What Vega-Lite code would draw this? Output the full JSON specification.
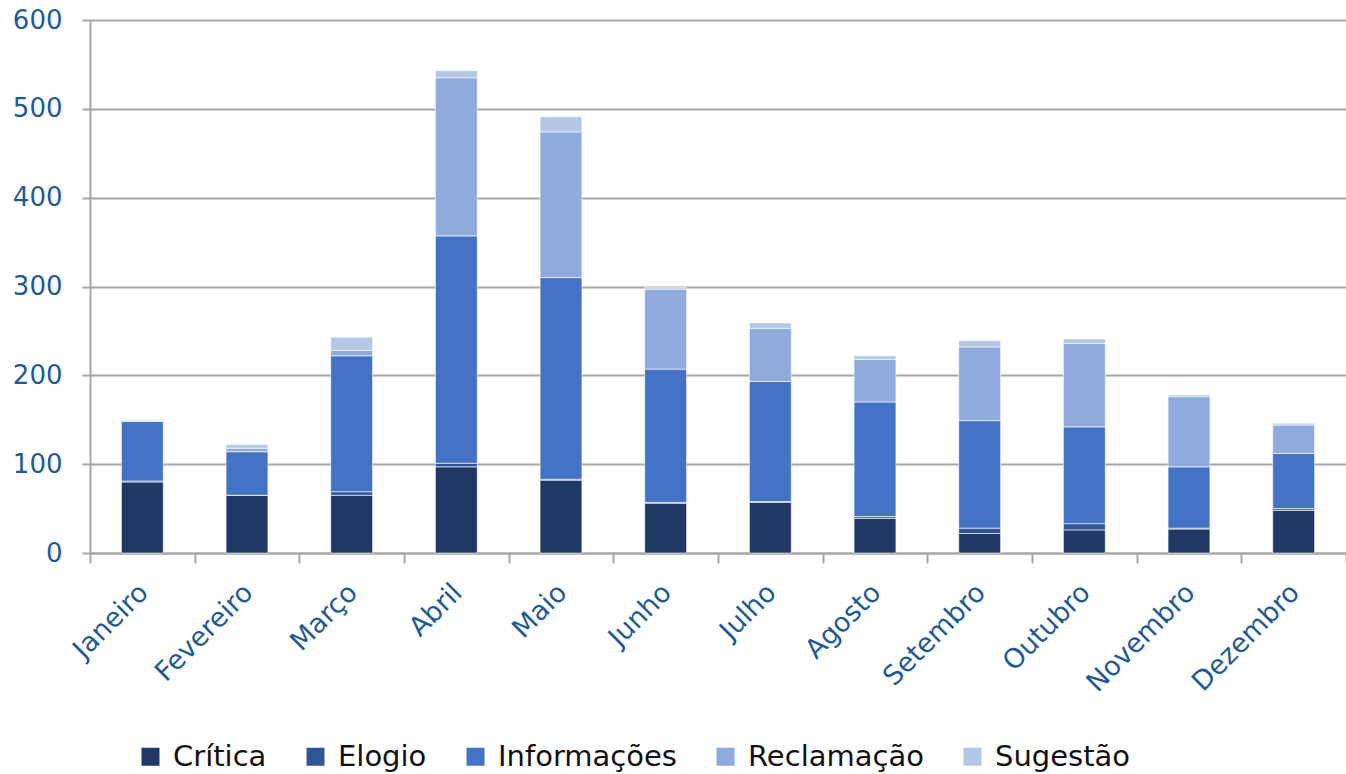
{
  "$schema": "https://vega.github.io/schema/vega-lite/v6.json",
  "autosize": "none",
  "padding": {"left": 90, "top": 20, "right": 0, "bottom": 221},
  "width": 1256,
  "height": 533,
  "background": "#ffffff",
  "config": {
    "font": "DejaVu Sans",
    "view": {"stroke": null}
  },
  "data": {
    "values": [
      {"mes": "Janeiro", "tipo": "Crítica", "valor": 80},
      {"mes": "Janeiro", "tipo": "Elogio", "valor": 1},
      {"mes": "Janeiro", "tipo": "Informações", "valor": 67},
      {"mes": "Janeiro", "tipo": "Reclamação", "valor": 1},
      {"mes": "Janeiro", "tipo": "Sugestão", "valor": 1},
      {"mes": "Fevereiro", "tipo": "Crítica", "valor": 65},
      {"mes": "Fevereiro", "tipo": "Elogio", "valor": 0},
      {"mes": "Fevereiro", "tipo": "Informações", "valor": 49},
      {"mes": "Fevereiro", "tipo": "Reclamação", "valor": 4},
      {"mes": "Fevereiro", "tipo": "Sugestão", "valor": 4},
      {"mes": "Março", "tipo": "Crítica", "valor": 65},
      {"mes": "Março", "tipo": "Elogio", "valor": 4},
      {"mes": "Março", "tipo": "Informações", "valor": 153},
      {"mes": "Março", "tipo": "Reclamação", "valor": 6},
      {"mes": "Março", "tipo": "Sugestão", "valor": 15},
      {"mes": "Abril", "tipo": "Crítica", "valor": 97},
      {"mes": "Abril", "tipo": "Elogio", "valor": 4},
      {"mes": "Abril", "tipo": "Informações", "valor": 256},
      {"mes": "Abril", "tipo": "Reclamação", "valor": 178},
      {"mes": "Abril", "tipo": "Sugestão", "valor": 8},
      {"mes": "Maio", "tipo": "Crítica", "valor": 82},
      {"mes": "Maio", "tipo": "Elogio", "valor": 1},
      {"mes": "Maio", "tipo": "Informações", "valor": 227},
      {"mes": "Maio", "tipo": "Reclamação", "valor": 164},
      {"mes": "Maio", "tipo": "Sugestão", "valor": 17},
      {"mes": "Junho", "tipo": "Crítica", "valor": 56},
      {"mes": "Junho", "tipo": "Elogio", "valor": 1},
      {"mes": "Junho", "tipo": "Informações", "valor": 150},
      {"mes": "Junho", "tipo": "Reclamação", "valor": 90},
      {"mes": "Junho", "tipo": "Sugestão", "valor": 2},
      {"mes": "Julho", "tipo": "Crítica", "valor": 57},
      {"mes": "Julho", "tipo": "Elogio", "valor": 1},
      {"mes": "Julho", "tipo": "Informações", "valor": 135},
      {"mes": "Julho", "tipo": "Reclamação", "valor": 60},
      {"mes": "Julho", "tipo": "Sugestão", "valor": 6},
      {"mes": "Agosto", "tipo": "Crítica", "valor": 39},
      {"mes": "Agosto", "tipo": "Elogio", "valor": 2},
      {"mes": "Agosto", "tipo": "Informações", "valor": 129},
      {"mes": "Agosto", "tipo": "Reclamação", "valor": 48},
      {"mes": "Agosto", "tipo": "Sugestão", "valor": 4},
      {"mes": "Setembro", "tipo": "Crítica", "valor": 22},
      {"mes": "Setembro", "tipo": "Elogio", "valor": 6},
      {"mes": "Setembro", "tipo": "Informações", "valor": 121},
      {"mes": "Setembro", "tipo": "Reclamação", "valor": 83},
      {"mes": "Setembro", "tipo": "Sugestão", "valor": 7},
      {"mes": "Outubro", "tipo": "Crítica", "valor": 26},
      {"mes": "Outubro", "tipo": "Elogio", "valor": 7},
      {"mes": "Outubro", "tipo": "Informações", "valor": 109},
      {"mes": "Outubro", "tipo": "Reclamação", "valor": 94},
      {"mes": "Outubro", "tipo": "Sugestão", "valor": 5},
      {"mes": "Novembro", "tipo": "Crítica", "valor": 27},
      {"mes": "Novembro", "tipo": "Elogio", "valor": 1},
      {"mes": "Novembro", "tipo": "Informações", "valor": 69},
      {"mes": "Novembro", "tipo": "Reclamação", "valor": 79},
      {"mes": "Novembro", "tipo": "Sugestão", "valor": 2},
      {"mes": "Dezembro", "tipo": "Crítica", "valor": 48},
      {"mes": "Dezembro", "tipo": "Elogio", "valor": 2},
      {"mes": "Dezembro", "tipo": "Informações", "valor": 62},
      {"mes": "Dezembro", "tipo": "Reclamação", "valor": 32},
      {"mes": "Dezembro", "tipo": "Sugestão", "valor": 2}
    ]
  },
  "layer": [
    {
      "mark": {"type": "bar", "width": {"band": 0.4}, "stroke": "#ffffff", "strokeWidth": 1, "strokeOpacity": 0.6},
      "encoding": {
        "x": {
          "field": "mes",
          "type": "nominal",
          "sort": ["Janeiro", "Fevereiro", "Março", "Abril", "Maio", "Junho", "Julho", "Agosto", "Setembro", "Outubro", "Novembro", "Dezembro"],
          "scale": {"paddingInner": 0, "paddingOuter": 0},
          "axis": {
            "title": null,
            "labelAngle": -45,
            "labelFontSize": 27,
            "labelColor": "#1F5B93",
            "labelPadding": 16,
            "labelOffset": -8,
            "domainColor": "#A6A6A6",
            "domainWidth": 2,
            "ticks": true,
            "tickBand": "extent",
            "tickColor": "#A6A6A6",
            "tickWidth": 2,
            "tickSize": 10,
            "grid": false
          }
        },
        "y": {
          "field": "valor",
          "type": "quantitative",
          "aggregate": "sum",
          "stack": "zero",
          "scale": {"domain": [0, 600], "nice": false},
          "axis": {
            "title": null,
            "values": [0, 100, 200, 300, 400, 500, 600],
            "labelFontSize": 26,
            "labelColor": "#1F5B93",
            "labelPadding": 20,
            "domainColor": "#A6A6A6",
            "domainWidth": 2,
            "tickColor": "#A6A6A6",
            "tickWidth": 2,
            "tickSize": 8,
            "gridColor": "#A6A6A6",
            "gridWidth": 2
          }
        },
        "color": {
          "field": "tipo",
          "type": "nominal",
          "scale": {
            "domain": ["Crítica", "Elogio", "Informações", "Reclamação", "Sugestão"],
            "range": ["#1F3864", "#2F5597", "#4472C4", "#8FAADC", "#B4C7E7"]
          },
          "legend": {
            "title": null,
            "orient": "none",
            "direction": "horizontal",
            "legendX": 46,
            "legendY": 722,
            "symbolType": "square",
            "symbolSize": 324,
            "symbolStrokeWidth": 0,
            "labelFontSize": 29,
            "labelLimit": 500,
            "labelColor": "#111111",
            "columnPadding": 34,
            "labelOffset": 8
          }
        },
        "order": {"field": "tipo", "sort": "ascending"}
      }
    }
  ]
}
